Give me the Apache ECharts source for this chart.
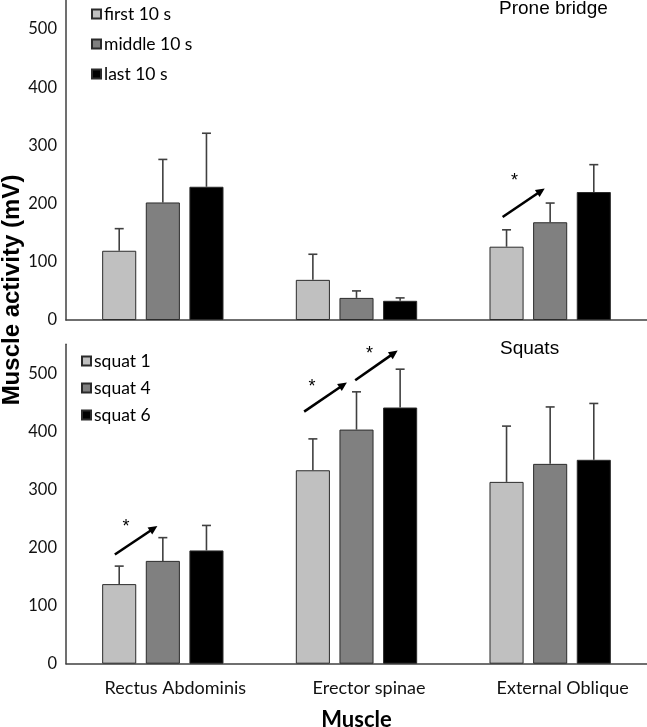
<!DOCTYPE html>
<html>
<head>
<meta charset="utf-8">
<script src="https://cdn.jsdelivr.net/npm/echarts@6/dist/echarts.min.js"></script>
<style>
  html, body { margin: 0; padding: 0; background: #fff; }
  #chart { width: 647px; height: 727px; }
</style>
</head>
<body>
<div id="chart"></div>
<script>
// ---------- data ----------
const categories = ['Rectus Abdominis', 'Erector spinae', 'External Oblique'];
const proneNames = ['first 10 s', 'middle 10 s', 'last 10 s'];
const squatNames = ['squat 1', 'squat 4', 'squat 6'];
const proneFirst = [119, 69, 126];
const proneMiddle = [202, 38, 168];
const proneLast = [229, 33, 220];
const proneFirstSD = [38, 44, 29];
const proneMiddleSD = [74, 12, 33];
const proneLastSD = [92, 5, 47];
const squat1 = [137, 333, 313];
const squat4 = [177, 403, 344];
const squat6 = [195, 441, 351];
const squat1SD = [31, 54, 96];
const squat4SD = [40, 65, 98];
const squat6SD = [43, 66, 97];
const yMin = 0, yMax = 550, yStep = 100;
// significance arrows: [category, startSlot, startValue, endSlot, endValue, starSlot, starValue]
const proneArrows = [[2, -1.09, 177, -0.125, 226, -0.82, 246]];
const squatArrows = [
  [0, -1.10, 188, -0.125, 237, -0.845, 242],
  [1, -1.20, 434, -0.22, 484, -1.02, 483],
  [1, -0.03, 488, 0.944, 539, 0.30, 540]
];

// ---------- styles ----------
const fills = ['#c0c0c0', '#808080', '#000000'];
const BAR_FRAC = 0.176, GAP_FRAC = 0.28;
const tickFont = 'Lato';
const axisColor = '#404040';

function barSeries(name, values, i, gi) {
  return {
    type: 'bar', name, data: values, xAxisIndex: gi, yAxisIndex: gi,
    barWidth: (BAR_FRAC * 100) + '%', barGap: (GAP_FRAC * 100) + '%',
    itemStyle: { color: fills[i], borderColor: '#2b2b2b', borderWidth: 1 },
    emphasis: { disabled: true }, animation: false, z: 2
  };
}
function errSeries(values, sds, i, gi) {
  return {
    type: 'custom', xAxisIndex: gi, yAxisIndex: gi, animation: false, z: 1,
    data: values.map((v, k) => [k, v, v + sds[k]]),
    encode: { x: 0, y: [1, 2] }, silent: true,
    renderItem(params, api) {
      const band = api.size([1, 0])[0];
      const bw = band * BAR_FRAC;
      const off = (i - 1) * bw * (1 + GAP_FRAC);
      const p0 = api.coord([api.value(0), api.value(1)]);
      const p1 = api.coord([api.value(0), api.value(2)]);
      const x = p0[0] + off;
      const cap = 4.5;
      const st = { stroke: axisColor, lineWidth: 1.6 };
      return { type: 'group', children: [
        { type: 'line', shape: { x1: x, y1: p0[1], x2: x, y2: p1[1] }, style: st },
        { type: 'line', shape: { x1: x - cap, y1: p1[1], x2: x + cap, y2: p1[1] }, style: st }
      ]};
    }
  };
}
function arrowSeries(items, gi) {
  return {
    type: 'custom', xAxisIndex: gi, yAxisIndex: gi, animation: false, z: 5, silent: true,
    clip: false,
    data: items,
    encode: { x: 0, y: 2 },
    renderItem(params, api) {
      const band = api.size([1, 0])[0];
      const slot = band * BAR_FRAC * (1 + GAP_FRAC);
      const c = api.value(0);
      const a = api.coord([c, api.value(2)]); a[0] += api.value(1) * slot;
      const b = api.coord([c, api.value(4)]); b[0] += api.value(3) * slot;
      const s = api.coord([c, api.value(6)]); s[0] += api.value(5) * slot;
      const ang = Math.atan2(b[1] - a[1], b[0] - a[0]);
      const hl = 9, hw = 4.2;
      const bx = b[0] - hl * Math.cos(ang), by = b[1] - hl * Math.sin(ang);
      const nx = -Math.sin(ang), ny = Math.cos(ang);
      return { type: 'group', children: [
        { type: 'line', shape: { x1: a[0], y1: a[1], x2: bx + Math.cos(ang), y2: by + Math.sin(ang) },
          style: { stroke: '#000', lineWidth: 2.6 } },
        { type: 'polygon', shape: { points: [[b[0], b[1]], [bx + nx * hw, by + ny * hw], [bx - nx * hw, by - ny * hw]] },
          style: { fill: '#000' } },
        { type: 'text', x: s[0], y: s[1] + 4,
          style: { text: '*', fontSize: 18, fontFamily: 'Liberation Sans', fill: '#000', align: 'center', verticalAlign: 'middle' } }
      ]};
    }
  };
}

const chart = echarts.init(document.getElementById('chart'), null, { renderer: 'canvas' });

function yAxisDef(gi) {
  return {
    type: 'value', gridIndex: gi, min: yMin, max: yMax, interval: yStep,
    axisLine: { show: true, lineStyle: { color: axisColor, width: 1.5 } },
    axisTick: { show: false }, splitLine: { show: false },
    axisLabel: { showMaxLabel: false, color: '#111', fontFamily: tickFont, fontSize: 16.5, margin: 9 }
  };
}

const legendText = { fontFamily: tickFont, fontSize: 17.5, color: '#000', lineHeight: 17, padding: [0, 0, 0, -2] };

const option = {
  backgroundColor: '#fff',
  animation: false,
  title: [
    { text: 'Prone bridge', left: 499, top: -1, padding: 0,
      textStyle: { fontFamily: 'Liberation Sans', fontWeight: 'normal', fontSize: 19, color: '#000' } },
    { text: 'Squats', left: 500, top: 339, padding: 0,
      textStyle: { fontFamily: 'Liberation Sans', fontWeight: 'normal', fontSize: 19, color: '#000' } }
  ],
  grid: [
    { left: 66, right: 0, top: 0, height: 320, containLabel: false, outerBoundsMode: 'none' },
    { left: 66, right: 0, top: 344.2, height: 319.5, containLabel: false, outerBoundsMode: 'none' }
  ],
  legend: [
    { data: proneNames, orient: 'vertical', left: 91, top: 5, padding: 0,
      itemWidth: 9, itemHeight: 9, itemGap: 12, icon: 'rect', selectedMode: false,
      textStyle: legendText },
    { data: squatNames, orient: 'vertical', left: 81, top: 352, padding: 0,
      itemWidth: 9, itemHeight: 9, itemGap: 9, icon: 'rect', selectedMode: false,
      textStyle: legendText }
  ],
  xAxis: [
    { type: 'category', gridIndex: 0, data: categories,
      axisLine: { lineStyle: { color: axisColor, width: 1.5 } }, axisTick: { show: false },
      axisLabel: { show: false } },
    { type: 'category', gridIndex: 1, data: categories,
      axisLine: { lineStyle: { color: axisColor, width: 1.5 } }, axisTick: { show: false },
      axisLabel: { color: '#111', fontFamily: tickFont, fontSize: 18, margin: 15, padding: [0, 0, 0, 25] },
      name: 'Muscle', nameLocation: 'middle', nameGap: 45,
      nameTextStyle: { fontFamily: tickFont, fontWeight: 'bold', fontSize: 22, color: '#000' } }
  ],
  yAxis: [yAxisDef(0), yAxisDef(1)],
  graphic: [
    { type: 'text', x: 12, y: 290, rotation: Math.PI / 2,
      style: { text: 'Muscle activity (mV)', fontFamily: 'Liberation Sans', fontWeight: 'bold', fontSize: 24,
        fill: '#000', align: 'center', verticalAlign: 'middle' } }
  ],
  series: [
    barSeries(proneNames[0], proneFirst, 0, 0),
    barSeries(proneNames[1], proneMiddle, 1, 0),
    barSeries(proneNames[2], proneLast, 2, 0),
    errSeries(proneFirst, proneFirstSD, 0, 0),
    errSeries(proneMiddle, proneMiddleSD, 1, 0),
    errSeries(proneLast, proneLastSD, 2, 0),
    arrowSeries(proneArrows, 0),
    barSeries(squatNames[0], squat1, 0, 1),
    barSeries(squatNames[1], squat4, 1, 1),
    barSeries(squatNames[2], squat6, 2, 1),
    errSeries(squat1, squat1SD, 0, 1),
    errSeries(squat4, squat4SD, 1, 1),
    errSeries(squat6, squat6SD, 2, 1),
    arrowSeries(squatArrows, 1)
  ]
};
chart.setOption(option);
</script>
</body>
</html>
